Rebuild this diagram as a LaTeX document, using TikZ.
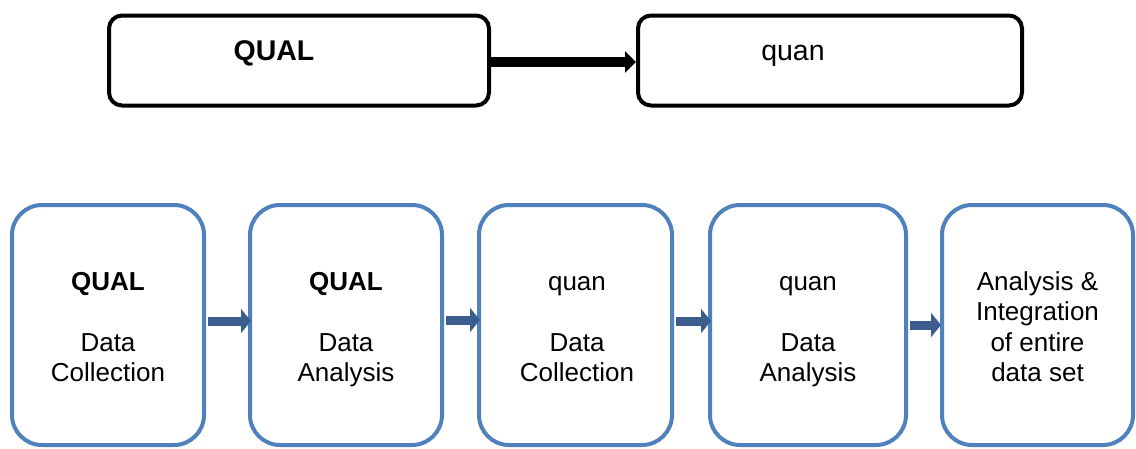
\documentclass[tikz,border=0pt]{standalone}
\usepackage{fontspec}
\setmainfont{Liberation Sans}
\usetikzlibrary{arrows.meta}
\definecolor{boxblue}{HTML}{4F81BD}
\definecolor{arrowblue}{HTML}{3B5E8F}
\newcommand{\firststrut}{\rule{0pt}{20pt}}
\tikzset{
  topbox/.style={draw=black, line width=4pt, rounded corners=13pt, minimum width=380pt, minimum height=90pt, inner sep=0pt},
  topbig/.style={font=\fontsize{28.5}{34}\selectfont, anchor=base, inner sep=0pt},
  stepbox/.style={draw=boxblue, line width=4pt, rounded corners=30pt, minimum height=240pt, inner sep=0pt},
  steptext/.style={anchor=north, align=center, inner sep=0pt, font=\fontsize{26}{30.5}\selectfont},
  bigarrow/.style={draw=black, line width=10pt, -{Triangle[length=11pt,width=21pt]}},
  blockarrow/.style={draw=arrowblue, line width=9pt, -{Triangle[length=10pt,width=24pt]}, arrowblue},
}
\begin{document}
\begin{tikzpicture}[x=1pt,y=-1pt]
\useasboundingbox (0,0) rectangle (1136,448);
% top row
\node[topbox] (tq) at (299,60.5) {};
\node[topbox, minimum width=384pt] (tn) at (830,60.5) {};
\node[topbig] (tqt) at (274,60) {\bfseries QUAL};
\node[topbig] (tnt) at (793,60) {quan};
\draw[bigarrow] ([yshift=-1.5pt]tq.east) -- ([yshift=-1.5pt]tn.west);
% bottom row
\node[stepbox, minimum width=192pt] (b1) at (108,325) {};
\node[stepbox, minimum width=192pt] (b2) at (346,325) {};
\node[stepbox, minimum width=193pt] (b3) at (575.5,325) {};
\node[stepbox, minimum width=196pt] (b4) at (808,325) {};
\node[stepbox, minimum width=191pt] (b5) at (1037.5,325) {};
\node[steptext] (t1) at (108,270) {\firststrut\textbf{QUAL}\\[30.5pt]Data\\Collection};
\node[steptext] (t2) at (346,270) {\firststrut\textbf{QUAL}\\[30.5pt]Data\\Analysis};
\node[steptext] (t3) at (577,270) {\firststrut quan\\[30.5pt]Data\\Collection};
\node[steptext] (t4) at (808,270) {\firststrut quan\\[30.5pt]Data\\Analysis};
\node[steptext] (t5) at (1037.5,270) {\firststrut Analysis \&\\Integration\\of entire\\data set};
\draw[blockarrow] ([xshift=2pt,yshift=4pt]b1.east) -- ([xshift=3pt,yshift=4pt]b2.west);
\draw[blockarrow] ([xshift=2pt,yshift=5pt]b2.east) -- ([xshift=3pt,yshift=5pt]b3.west);
\draw[blockarrow] ([xshift=2pt,yshift=4pt]b3.east) -- ([xshift=3pt,yshift=4pt]b4.west);
\draw[blockarrow] ([xshift=2pt,yshift=0pt]b4.east) -- ([xshift=1pt,yshift=0pt]b5.west);
\end{tikzpicture}
\end{document}
